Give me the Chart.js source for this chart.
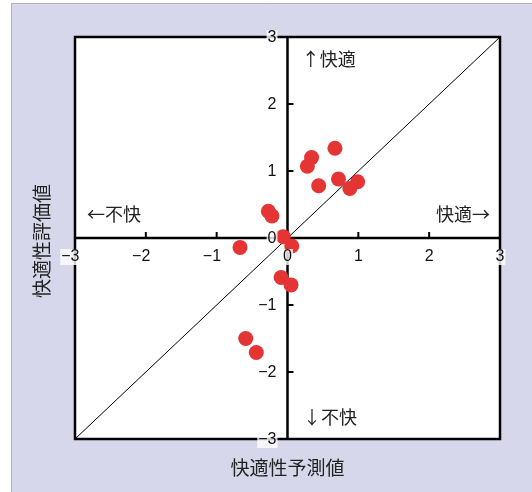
<!DOCTYPE html>
<html>
<head>
<meta charset="utf-8">
<script src="https://cdn.jsdelivr.net/npm/chart.js@4"></script>
<style>
  body { margin: 0; background: #fff; }
  canvas { display: block; }
</style>
</head>
<body>
<canvas id="myChart" width="532" height="492"></canvas>
<script>
// valores
const predicted = [0.67, 0.34, 0.28, 0.44, 0.72, 0.88, 0.99, -0.27, -0.22, -0.67, -0.06, 0.06, -0.09, 0.05, -0.59, -0.44];
const evaluated = [1.34, 1.20, 1.07, 0.78, 0.88, 0.74, 0.84, 0.40, 0.33, -0.14, 0.02, -0.12, -0.59, -0.70, -1.50, -1.71];
const tickValues = [-3, -2, -1, 0, 1, 2, 3];
const tickLabels = ["−3", "−2", "−1", "0", "1", "2", "3"];
const xTitle = "快適性予測値";
const yTitle = "快適性評価値";
const notes = [
  { text: "↑快適", x: 0.2, y: 2.67, align: "left" },
  { text: "↓不快", x: 0.22, y: -2.67, align: "left" },
  { text: "←不快", x: -2.83, y: 0.36, align: "left" },
  { text: "快適→", x: 2.86, y: 0.36, align: "right" },
];

const FONT = '"Liberation Sans", "Noto Sans CJK JP", sans-serif';
const CJK = '"Noto Sans CJK JP", sans-serif';

const quadrantPlugin = {
  id: "quadrant",
  beforeDraw(chart) {
    const c = chart.ctx;
    const a = chart.chartArea;
    c.save();
    c.fillStyle = "#ffffff";
    c.fillRect(0, 0, chart.width, chart.height);
    // painel lilás
    c.fillStyle = "#d7d7eb";
    c.fillRect(11, 3, chart.width - 11, chart.height - 3);
    c.strokeStyle = "#b4b4b8";
    c.lineWidth = 1;
    c.beginPath();
    c.moveTo(11.5, chart.height);
    c.lineTo(11.5, 3.5);
    c.lineTo(chart.width, 3.5);
    c.stroke();
    // area do grafico
    c.fillStyle = "#ffffff";
    c.fillRect(a.left, a.top, a.right - a.left, a.bottom - a.top);
    c.restore();
  },
  beforeDatasetsDraw(chart) {
    const c = chart.ctx;
    const a = chart.chartArea;
    const xs = chart.scales.x;
    const ys = chart.scales.y;
    const x0 = xs.getPixelForValue(0);
    const y0 = ys.getPixelForValue(0);
    c.save();
    c.strokeStyle = "#000";
    c.lineWidth = 2.5;
    c.strokeRect(a.left, a.top, a.right - a.left, a.bottom - a.top);
    c.beginPath();
    c.moveTo(a.left, y0);
    c.lineTo(a.right, y0);
    c.moveTo(x0, a.top);
    c.lineTo(x0, a.bottom);
    c.stroke();
    c.lineWidth = 2;
    c.beginPath();
    tickValues.forEach((v) => {
      if (v === 0 || Math.abs(v) === 3) return;
      const px = xs.getPixelForValue(v);
      c.moveTo(px, y0);
      c.lineTo(px, y0 - 6);
      const py = ys.getPixelForValue(v);
      c.moveTo(x0, py);
      c.lineTo(x0 + 6, py);
    });
    c.stroke();
    c.restore();
  },
  afterDatasetsDraw(chart) {
    const c = chart.ctx;
    const a = chart.chartArea;
    const xs = chart.scales.x;
    const ys = chart.scales.y;
    const x0 = xs.getPixelForValue(0);
    const y0 = ys.getPixelForValue(0);
    c.save();
    c.font = "16px " + FONT;
    c.textBaseline = "middle";
    const label = (txt, right, cy) => {
      const w = c.measureText(txt).width;
      c.fillStyle = "rgba(255,255,255,0.8)";
      c.fillRect(right - w - 1, cy - 8, w + 2, 16);
      c.fillStyle = "#111";
      c.textAlign = "right";
      c.fillText(txt, right, cy);
    };
    const digitW = c.measureText("0").width;
    tickValues.forEach((v, i) => {
      // eixo x: o digito fica centrado no tick
      label(tickLabels[i], xs.getPixelForValue(v) + digitW / 2, y0 + 19);
      // eixo y
      label(tickLabels[i], x0 - 11, ys.getPixelForValue(v) + 1);
    });

    c.font = "18px " + CJK;
    c.fillStyle = "#222";
    notes.forEach((n) => {
      c.textAlign = n.align;
      c.fillText(n.text, xs.getPixelForValue(n.x), ys.getPixelForValue(n.y));
    });

    c.font = "19px " + CJK;
    c.textAlign = "center";
    c.fillText(xTitle, (a.left + a.right) / 2, 468);
    c.translate(42, (a.top + a.bottom) / 2 + 3);
    c.rotate(-Math.PI / 2);
    c.fillText(yTitle, 0, 0);
    c.restore();
  },
};

const ctx = document.getElementById("myChart");

new Chart(ctx, {
  type: "scatter",
  data: {
    datasets: [
      {
        label: "pontos",
        data: predicted.map((v, i) => ({ x: v, y: evaluated[i] })),
        pointRadius: 7.5,
        pointHoverRadius: 7.5,
        borderWidth: 0,
        backgroundColor: "#e43434",
        order: 0,
      },
      {
        label: "diagonal",
        data: [{ x: -3, y: -3 }, { x: 3, y: 3 }],
        showLine: true,
        pointRadius: 0,
        borderWidth: 1,
        borderColor: "#000",
        order: 1,
      },
    ],
  },
  options: {
    responsive: false,
    animation: false,
    layout: { padding: { left: 75, top: 37, right: 32, bottom: 53 } },
    plugins: { legend: { display: false }, tooltip: { enabled: false } },
    scales: {
      x: { type: "linear", min: -3, max: 3, display: false },
      y: { type: "linear", min: -3, max: 3, display: false },
    },
  },
  plugins: [quadrantPlugin],
});
</script>
</body>
</html>
